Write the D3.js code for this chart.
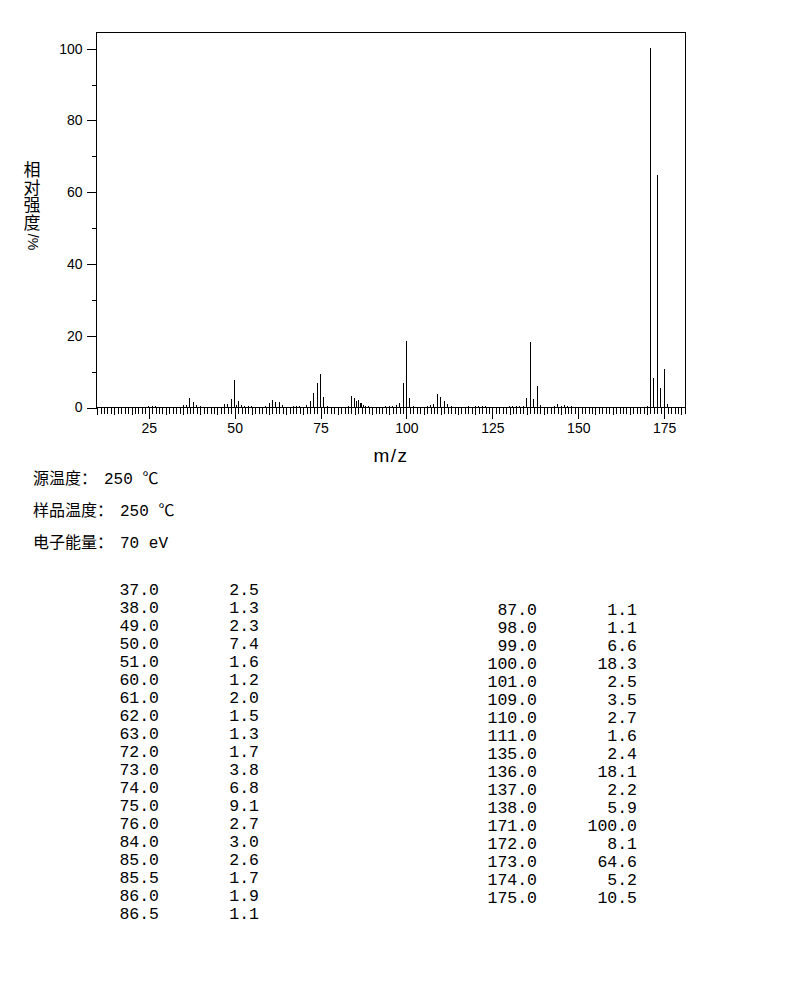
<!DOCTYPE html>
<html>
<head>
<meta charset="utf-8">
<title>Mass Spectrum</title>
<style>
  body { margin: 0; background: #fff; }
  svg { display: block; }
</style>
</head>
<body>
<script src="https://d3js.org/d3.v7.min.js"></script>
<script>
// Peaks listed in the table (m/z, relative intensity %)
const mzTable = [37.0, 38.0, 49.0, 50.0, 51.0, 60.0, 61.0, 62.0, 63.0, 72.0, 73.0, 74.0, 75.0, 76.0,
                 84.0, 85.0, 85.5, 86.0, 86.5,
                 87.0, 98.0, 99.0, 100.0, 101.0, 109.0, 110.0, 111.0, 135.0, 136.0, 137.0, 138.0,
                 171.0, 172.0, 173.0, 174.0, 175.0];
const intTable = [2.5, 1.3, 2.3, 7.4, 1.6, 1.2, 2.0, 1.5, 1.3, 1.7, 3.8, 6.8, 9.1, 2.7,
                  3.0, 2.6, 1.7, 1.9, 1.1,
                  1.1, 1.1, 6.6, 18.3, 2.5, 3.5, 2.7, 1.6, 2.4, 18.1, 2.2, 5.9,
                  100.0, 8.1, 64.6, 5.2, 10.5];
const leftRows = 19;

// Small peaks drawn in the spectrum but not listed
const mzSmall = [25, 26, 27, 35, 36, 39, 40, 47, 48, 50.5, 52, 53, 54, 55, 59, 64, 67, 68, 69, 71, 77, 83,
                 87.5, 88, 89, 94, 95, 96, 97, 102, 106, 107, 108, 112, 113, 118, 120, 121, 122, 123,
                 130, 131, 132, 133, 134, 139, 143, 144, 145, 146, 147, 148, 170, 176];
const intSmall = [0.4, 0.4, 0.4, 0.6, 0.6, 0.5, 0.4, 0.8, 0.8, 0.5, 0.5, 0.3, 0.3, 0.3, 0.3, 0.6, 0.4, 0.3, 0.3, 0.5, 0.4, 0.3,
                  0.5, 0.3, 0.3, 0.3, 0.3, 0.3, 0.5, 0.3, 0.3, 0.5, 0.9, 0.7, 0.3, 0.3, 0.3, 0.3, 0.3, 0.3,
                  0.3, 0.3, 0.3, 0.3, 0.4, 0.5, 0.3, 0.7, 0.4, 0.5, 0.3, 0.3, 0.4, 0.7];

const xMajor = [25, 50, 75, 100, 125, 150, 175];
const yMajor = [0, 20, 40, 60, 80, 100];
const yMinor = [10, 30, 50, 70, 90];

const conditionLabels = ['源温度：', '样品温度：', '电子能量：'];
const conditionValues = ['250 ℃', '250 ℃', '70 eV'];

const yTitle = '相对强度';
const yUnit = '/%';

const width = 794, height = 992;
const plot = { left: 96, right: 685, top: 32, bottom: 407 };

const svg = d3.select('body').append('svg')
    .attr('width', width)
    .attr('height', height);

const x = d3.scaleLinear().domain([9.8, 181.2]).range([plot.left, plot.right]);
const y = d3.scaleLinear().domain([0, 104.5]).range([plot.bottom, plot.top]);

// frame
svg.append('rect')
    .attr('x', plot.left + 0.5).attr('y', plot.top + 0.5)
    .attr('width', plot.right - plot.left).attr('height', plot.bottom - plot.top)
    .attr('fill', 'none').attr('stroke', '#000').attr('stroke-width', 1)
    .attr('shape-rendering', 'crispEdges');

// x axis: unit ticks, longer every 5, labelled every 25
const allTicks = d3.range(10, 182);
function xAxisLayer(vals, size, labels) {
    const ax = d3.axisBottom(x).tickValues(vals).tickSize(size).tickPadding(5)
        .tickFormat(labels ? d3.format('d') : '');
    const layer = svg.append('g')
        .attr('transform', `translate(0.5,${plot.bottom + 0.5})`)
        .attr('shape-rendering', 'crispEdges')
        .call(ax);
    layer.select('.domain').remove();
    layer.selectAll('text')
        .attr('font-family', '"Liberation Sans", Arial, sans-serif')
        .attr('font-size', 14).attr('fill', '#000');
}
xAxisLayer(allTicks.filter(d => d % 5 !== 0), 6, false);
xAxisLayer(allTicks.filter(d => d % 5 === 0 && d % 25 !== 0), 7.5, false);
xAxisLayer(xMajor, 11, true);

// y axis
function yAxisLayer(vals, size, labels) {
    const ax = d3.axisLeft(y).tickValues(vals).tickSize(size).tickPadding(4)
        .tickFormat(labels ? d3.format('d') : '');
    const layer = svg.append('g')
        .attr('transform', `translate(${plot.left + 0.5},0.5)`)
        .attr('shape-rendering', 'crispEdges')
        .call(ax);
    layer.select('.domain').remove();
    layer.selectAll('text')
        .attr('font-family', '"Liberation Sans", Arial, sans-serif')
        .attr('font-size', 14).attr('fill', '#000');
}
yAxisLayer(yMinor, 5, false);
yAxisLayer(yMajor, 10, true);

// peaks
const peaks = mzSmall.map((m, i) => ({ mz: m, v: intSmall[i] }))
    .concat(mzTable.map((m, i) => ({ mz: m, v: intTable[i] })));

svg.append('g').attr('shape-rendering', 'crispEdges')
    .selectAll('line').data(peaks).enter().append('line')
    .attr('x1', d => Math.round(x(d.mz)) + 0.5)
    .attr('x2', d => Math.round(x(d.mz)) + 0.5)
    .attr('y1', y(0))
    .attr('y2', d => y(d.v))
    .attr('stroke', '#000').attr('stroke-width', 1);

// axis titles
svg.append('text')
    .attr('x', 391).attr('y', 462)
    .attr('text-anchor', 'middle')
    .attr('font-family', '"Liberation Sans", Arial, sans-serif')
    .attr('font-size', 19).attr('letter-spacing', 1.5)
    .text('m/z');

// vertical y title: CJK stacked top to bottom, unit turned sideways
svg.append('text')
    .attr('x', 32).attr('y', 161)
    .style('writing-mode', 'vertical-rl')
    .attr('font-family', '"Noto Sans CJK SC", sans-serif')
    .attr('font-size', 17)
    .attr('letter-spacing', 0.6)
    .text(yTitle);
svg.append('text')
    .attr('transform', 'translate(28,242) rotate(90)')
    .attr('text-anchor', 'middle')
    .attr('font-family', '"Liberation Sans", Arial, sans-serif')
    .attr('font-size', 14)
    .text(yUnit);

// instrument conditions
const cond = svg.selectAll('.cond').data(conditionLabels).enter().append('text')
    .attr('class', 'cond')
    .attr('y', (d, i) => 484 + i * 32)
    .attr('font-size', 16);
cond.append('tspan')
    .attr('x', 33)
    .attr('font-family', '"Noto Sans CJK SC", sans-serif')
    .text(d => d);
cond.append('tspan')
    .attr('x', d => 33 + d.length * 16 + 7)
    .attr('font-family', '"Liberation Mono", "Noto Sans CJK SC", monospace')
    .text((d, i) => conditionValues[i]);

// peak table
const rows = mzTable.map((m, i) => ({ mz: m, v: intTable[i], i }));
const fmt = d3.format('.1f');
const table = svg.append('g')
    .attr('font-family', '"Liberation Mono", "Courier New", monospace')
    .attr('font-size', 16.5)
    .attr('text-anchor', 'end');
const colX = [[159, 259], [537, 637]];
rows.forEach(r => {
    const col = r.i < leftRows ? 0 : 1;
    const row = col === 0 ? r.i : r.i - leftRows;
    const yy = (col === 0 ? 595 : 615) + row * 18;
    table.append('text').attr('x', colX[col][0]).attr('y', yy).text(fmt(r.mz));
    table.append('text').attr('x', colX[col][1]).attr('y', yy).text(fmt(r.v));
});
</script>
</body>
</html>
